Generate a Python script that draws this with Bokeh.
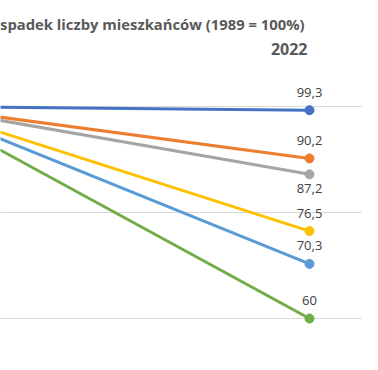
from bokeh.plotting import figure
from bokeh.models import Range1d, Grid, FixedTicker, ColumnDataSource, Label
from bokeh.core.properties import value
from bokeh.embed import file_html
from bokeh.resources import INLINE

# ---- data ----
years = [1989, 2022]
series_names = ["s1", "s2", "s3", "s4", "s5", "s6"]
start_values = [100, 100, 100, 100, 100, 100]
end_values = [99.3, 90.2, 87.2, 76.5, 70.3, 60]
end_labels = ["99,3", "90,2", "87,2", "76,5", "70,3", "60"]
label_side = ["above", "above", "below", "above", "above", "above"]
grid_ticks = [60, 80, 100]
title_text = "spadek liczby mieszkańców (1989 = 100%)"
year_label = "2022"

colors = ["#4472C4", "#ED7D31", "#A5A5A5", "#FFC000", "#5B9BD5", "#70AD47"]

p = figure(width=362, height=354, output_backend="svg", toolbar_location=None,
           x_axis_type=None, y_axis_type=None,
           x_range=Range1d(1995.787, 2026.496), y_range=Range1d(53.21, 120.0),
           min_border=0, outline_line_color=None)
p.background_fill_color = "white"
p.border_fill_color = "white"

grid = Grid(dimension=1, ticker=FixedTicker(ticks=grid_ticks),
            grid_line_color="#D9D9D9", grid_line_width=1)
p.add_layout(grid)

for s, v0, v1, c in zip(series_names, start_values, end_values, colors):
    p.line(x=years, y=[v0, v1], line_color=c, line_width=3)
    p.scatter(x=years, y=[v0, v1], size=9, fill_color=c, line_color=c)

offsets = [-18 if s == "above" else 14 for s in label_side]
src = ColumnDataSource(dict(x=[years[-1]] * len(end_values), y=end_values,
                            t=end_labels, off=offsets))
p.text(x="x", y="y", text="t", y_offset="off", source=src,
       text_align="center", text_baseline="middle",
       text_font=value("Open Sans"), text_font_size="13px", text_color="#404040")

p.add_layout(Label(x=304, y=331, x_units="screen", y_units="screen",
                   text=title_text, text_align="right", text_baseline="middle",
                   text_font="Open Sans", text_font_size="14.8px",
                   text_font_style="bold", text_color="#595959"))
p.add_layout(Label(x=307, y=306, x_units="screen", y_units="screen",
                   text=year_label, text_align="right", text_baseline="middle",
                   text_font="Open Sans", text_font_size="16px",
                   text_font_style="bold", text_color="#595959"))

open("out.html", "w").write(file_html(p, INLINE))
